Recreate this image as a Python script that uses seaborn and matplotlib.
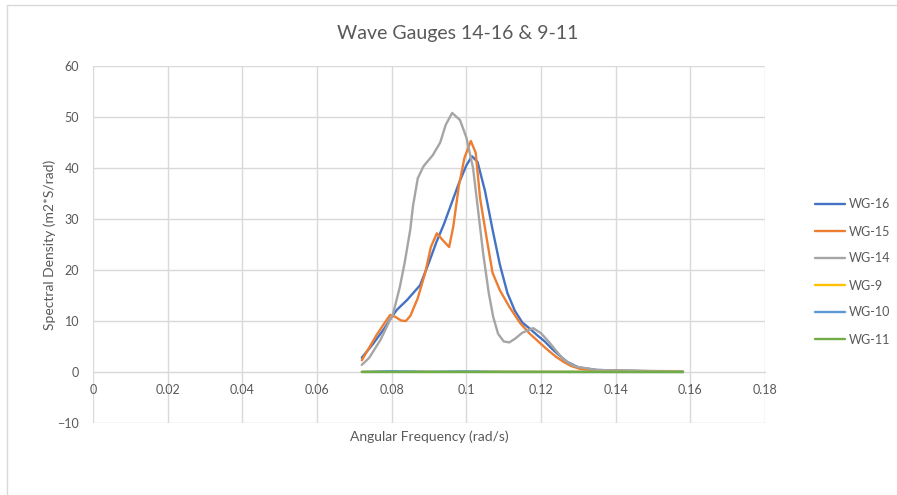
import numpy as np
import pandas as pd
import seaborn as sns
import matplotlib
matplotlib.use("Agg")
import matplotlib.pyplot as plt
from matplotlib.lines import Line2D

# Spectral density readings per wave gauge (frequency in rad/s, density in m2*S/rad)
wg16_f = [0.072, 0.075, 0.078, 0.080, 0.0814, 0.0841, 0.0876, 0.090, 0.092, 0.094,
          0.096, 0.098, 0.100, 0.1015, 0.103, 0.105, 0.107, 0.109, 0.111, 0.113,
          0.115, 0.117, 0.119, 0.121, 0.123, 0.125, 0.127, 0.130, 0.135, 0.140,
          0.145, 0.150, 0.158]
wg16_v = [2.8, 5.5, 8.5, 10.8, 12.2, 14.1, 17.0, 21.5, 25.5, 29.0,
          33.0, 37.0, 40.5, 42.3, 41.2, 35.5, 28.0, 21.0, 15.5, 12.0,
          9.7, 8.5, 7.2, 6.0, 4.5, 3.2, 2.0, 0.9, 0.4, 0.3,
          0.2, 0.1, 0.05]

wg15_f = [0.072, 0.074, 0.076, 0.078, 0.0796, 0.081, 0.0825, 0.0838, 0.085, 0.087,
          0.089, 0.0905, 0.0921, 0.0935, 0.0954, 0.0965, 0.098, 0.0995, 0.1012, 0.1025,
          0.1037, 0.1055, 0.107, 0.109, 0.1115, 0.1144, 0.117, 0.1197, 0.122, 0.124,
          0.126, 0.128, 0.1305, 0.135, 0.145, 0.158]
wg15_v = [2.3, 4.8, 7.3, 9.5, 11.2, 10.8, 10.1, 10.0, 11.0, 14.5,
          19.5, 24.5, 27.2, 26.0, 24.5, 28.5, 36.5, 42.0, 45.3, 43.0,
          34.0, 26.0, 19.5, 16.0, 12.8, 9.6, 7.5, 5.7, 4.2, 3.0,
          2.0, 1.2, 0.6, 0.3, 0.15, 0.05]

wg14_f = [0.072, 0.074, 0.077, 0.0804, 0.0822, 0.0835, 0.085, 0.0857, 0.087, 0.0885,
          0.0895, 0.091, 0.093, 0.0945, 0.0962, 0.0983, 0.100, 0.1018, 0.1031, 0.1045,
          0.106, 0.1072, 0.1085, 0.110, 0.1115, 0.113, 0.115, 0.1179, 0.120, 0.122,
          0.124, 0.126, 0.128, 0.1297, 0.135, 0.140, 0.145, 0.150, 0.158]
wg14_v = [1.4, 2.8, 6.3, 11.5, 16.7, 21.5, 28.0, 32.5, 38.0, 40.3,
          41.2, 42.5, 45.0, 48.5, 50.8, 49.4, 46.0, 40.0, 32.0, 23.3,
          15.5, 10.8, 7.5, 6.0, 5.8, 6.5, 7.7, 8.6, 7.6, 6.0,
          4.2, 2.5, 1.5, 1.0, 0.4, 0.3, 0.3, 0.2, 0.15]

wg9_f = [0.072, 0.090, 0.110, 0.130, 0.158]
wg9_v = [0.05, 0.06, 0.06, 0.05, 0.04]

wg10_f = [0.072, 0.080, 0.090, 0.100, 0.110, 0.130, 0.158]
wg10_v = [0.02, 0.15, 0.05, 0.12, 0.03, 0.02, 0.01]

wg11_f = [0.072, 0.090, 0.110, 0.130, 0.158]
wg11_v = [-0.05, -0.05, -0.05, -0.05, -0.05]

gauges = ["WG-16", "WG-15", "WG-14", "WG-9", "WG-10", "WG-11"]
colors = ["#4472C4", "#ED7D31", "#A5A5A5", "#FFC000", "#5B9BD5", "#70AD47"]

series = [(wg16_f, wg16_v), (wg15_f, wg15_v), (wg14_f, wg14_v),
          (wg9_f, wg9_v), (wg10_f, wg10_v), (wg11_f, wg11_v)]
frames = []
for name, (f, v) in zip(gauges, series):
    frames.append(pd.DataFrame({"freq": f, "density": v, "gauge": name}))
df = pd.concat(frames, ignore_index=True)

sns.set_style("white")
plt.rcParams["font.family"] = ["Lato", "DejaVu Sans"]
text_col = "#595959"

fig = plt.figure(figsize=(8.97, 4.95), dpi=100)
ax = fig.add_axes([93 / 897, 1 - 423 / 495, (765 - 93) / 897, (423 - 66) / 495])

sns.lineplot(data=df, x="freq", y="density", hue="gauge", hue_order=gauges,
             palette=colors, sort=False, estimator=None, linewidth=1.7,
             ax=ax, legend=False)

ax.set_xlim(0, 0.18)
ax.set_ylim(-10, 60)
ax.set_xticks(np.arange(0, 0.181, 0.02))
ax.set_xticklabels(["0", "0.02", "0.04", "0.06", "0.08", "0.1", "0.12",
                    "0.14", "0.16", "0.18"])
ax.set_yticks(np.arange(-10, 61, 10))
ax.grid(True, color="#d9d9d9", linewidth=1)
ax.set_axisbelow(True)

for side in ["top", "right", "left"]:
    ax.spines[side].set_visible(False)
ax.spines["bottom"].set_position(("data", 0))
ax.spines["bottom"].set_color("#d0d0d0")
ax.spines["bottom"].set_zorder(0.5)

ax.tick_params(axis="both", length=0, labelsize=9, labelcolor=text_col)
ax.tick_params(axis="x", pad=9)
ax.tick_params(axis="y", pad=10)

ax.set_xlabel("Angular Frequency (rad/s)", fontsize=10, color=text_col)
ax.xaxis.set_label_coords(0.5, -0.02)
ax.set_ylabel("Spectral Density (m2*S/rad)", fontsize=10, color=text_col)
ax.yaxis.set_label_coords(-0.055, 0.5)

fig.text(458 / 897, 1 - 33 / 495, "Wave Gauges 14-16 & 9-11", fontsize=14,
         color=text_col, ha="center", va="center")

handles = [Line2D([], [], color=c, linewidth=1.7) for c in colors]
leg = fig.legend(handles, gauges, loc="center left",
                 bbox_to_anchor=(815 / 897, 1 - 272 / 495), frameon=False,
                 borderaxespad=0, borderpad=0,
                 fontsize=9, handlelength=2.4, handletextpad=0.3,
                 labelspacing=1.2)
for t in leg.get_texts():
    t.set_color(text_col)

# outer chart frame edges
fig.add_artist(Line2D([7 / 897, 1], [1 - 5 / 495, 1 - 5 / 495],
                      color="#d9d9d9", linewidth=1, transform=fig.transFigure))
fig.add_artist(Line2D([7 / 897, 7 / 897], [0, 1 - 5 / 495],
                      color="#d9d9d9", linewidth=1, transform=fig.transFigure))

fig.savefig("out.png", dpi=100)
